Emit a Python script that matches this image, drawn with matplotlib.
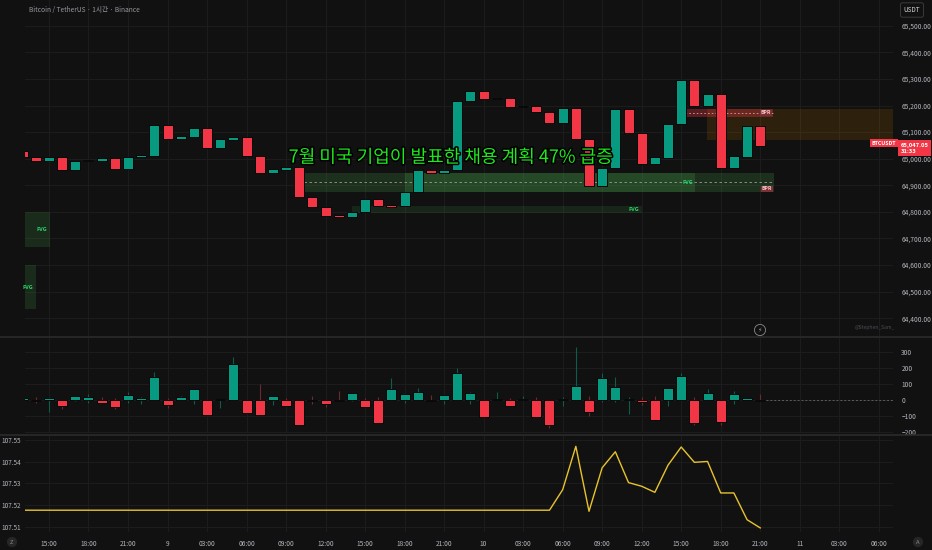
import numpy as np
import matplotlib
matplotlib.use("Agg")
import matplotlib.pyplot as plt
import matplotlib.transforms as mtrans
import matplotlib.patheffects as pe
from matplotlib.patches import Rectangle

plt.rcParams['font.family'] = ['Noto Sans CJK KR', 'DejaVu Sans']

# ---- data (hour offsets: 0 = day 8, 15:00) ----
hours = np.arange(-2, 55)
opens = [65030, 65008, 64991, 65005, 64956, 64990, 64993, 65003, 64962, 65005,
         65010, 65125, 65075, 65082, 65116, 65040, 65070, 65080, 65009, 64947,
         64959, 64970, 64857, 64817, 64788, 64782, 64800, 64848, 64825, 64822,
         64876, 64957, 64947, 64957, 65216, 65256, 65225, 65228, 65194, 65197,
         65177, 65133, 65189, 65073, 64897, 64964, 65187, 65097, 64979, 65004,
         65132, 65296, 65198, 65243, 64964, 65008, 65124]
closes = [65007, 64991, 65005, 64956, 64991, 64994, 65003, 64962, 65007, 65014,
          65125, 65075, 65084, 65116, 65040, 65074, 65080, 65009, 64947, 64960,
          64970, 64857, 64817, 64785, 64782, 64800, 64848, 64822, 64820, 64876,
          64957, 64947, 64957, 65217, 65256, 65225, 65229, 65194, 65198, 65177,
          65133, 65189, 65073, 64897, 64964, 65187, 65097, 64979, 65005, 65132,
          65296, 65198, 65243, 64964, 65010, 65124, 65047.05]

delta = [10, -8, 12, -35, 23, 17, -19, -44, 31, 10,
         146, -31, 21, 67, -94, 6, 227, -83, -94, 23,
         -38, -158, -4, -23, -2, 44, -42, -146, 67, 37,
         52, -2, 29, 169, 42, -106, 4, -35, 6, -106,
         -156, 4, 87, -73, 140, 81, 4, -15, -125, 75,
         154, -146, 44, -135, 35, 12, -2]
delta_hi = [10, 17, 12, 0, 23, 40, 19, 10, 48, 21,
            177, 10, 25, 67, 0, 6, 269, 0, 102, 23,
            10, 0, 25, 0, 54, 44, 12, 17, 137, 37,
            77, 29, 29, 204, 52, 0, 48, 10, 25, 19,
            0, 19, 331, 23, 167, 142, 19, 19, 23, 75,
            173, 19, 67, 0, 54, 12, 37]
delta_lo = [0, -21, -73, -56, -6, -17, -19, -56, -19, -25,
            0, -52, 0, -23, -94, -50, 0, -83, -94, -29,
            -38, -158, -23, -42, -2, -8, -42, -146, 0, -19,
            0, -2, -23, 0, -25, -106, 0, -35, 0, -106,
            -173, -38, 0, -100, -10, -10, -85, -33, -125, -38,
            0, -154, 0, -156, -23, -2, -2]

line_hours = [-2, 38, 39, 40, 41, 42, 43, 44, 45, 46, 47, 48, 49, 50, 51, 52, 53, 54]
line_vals = [107.5176, 107.5176, 107.5271, 107.5472, 107.5171, 107.5373, 107.5447,
             107.5304, 107.5287, 107.5259, 107.5385, 107.5469, 107.5398, 107.5402,
             107.5256, 107.5256, 107.5132, 107.5094]

tick_hours = list(range(0, 64, 3))
tick_labels = ['15:00', '18:00', '21:00', '9', '03:00', '06:00', '09:00', '12:00',
               '15:00', '18:00', '21:00', '10', '03:00', '06:00', '09:00', '12:00',
               '15:00', '18:00', '21:00', '11', '03:00', '06:00']
price_ticks = list(range(64400, 65501, 100))
delta_ticks = [-200, -100, 0, 100, 200, 300]
line_ticks = [107.51, 107.52, 107.53, 107.54, 107.55]

# zones: (start hour, end hour, low, high)
fvg_main = (19.4, 49.05, 64876, 64946)
bpr_green = (27.0, 55.05, 64876, 64946)
fvg_low = (23.0, 45.0, 64797, 64823)
fvg_left = [(-1.9, 0.08, 64669, 64800), (-1.9, -0.99, 64434, 64599)]
bpr_red = (48.3, 54.97, 65157, 65187)
supply_zone = (49.96, 70, 65070, 65187)

headline = '7월 미국 기업이 발표한 채용 계획 47% 급증'
countdown = '31:33'

# ---- styles ----
BG = '#111111'
GRID = '#1d1d1d'
TXT = '#b2b5be'
UP = '#089981'
DN = '#f23645'
W, H = 932, 550
XLIM = (-1.82, 64.08)


def px_rect(x0, y0, x1, y1):
    return [x0 / W, 1 - y1 / H, (x1 - x0) / W, (y1 - y0) / H]


fig = plt.figure(figsize=(W / 100, H / 100), dpi=100, facecolor=BG)
ax = fig.add_axes(px_rect(25, 0, 893, 336))
axh = fig.add_axes(px_rect(25, 338, 893, 433))
axl = fig.add_axes(px_rect(25, 436, 893, 532))

for a in (ax, axh, axl):
    a.set_facecolor(BG)
    a.set_xlim(*XLIM)
    for s in a.spines.values():
        s.set_visible(False)
    a.set_xticks(tick_hours)
    a.grid(True, color=GRID, linewidth=0.7)
    a.set_axisbelow(True)
    a.tick_params(length=0, labelsize=4.8, labelcolor=TXT)
    a.yaxis.tick_right()
ax.tick_params(labelbottom=False, pad=6)
axh.tick_params(labelbottom=False, pad=6)

# panel separators
for yy in (337, 435):
    fig.add_artist(plt.Line2D([0, 1], [1 - yy / H] * 2, color='#2b2b2b', lw=1.2))

# ---- main candles ----
o = np.array(opens)
c = np.array(closes)
cols = [UP if cc >= oo else DN for oo, cc in zip(o, c)]
ax.bar(hours, np.maximum(np.abs(c - o), 3), bottom=np.minimum(o, c), width=0.76,
       color=cols, edgecolor='#080808', linewidth=0.7, zorder=3)
ax.set_ylim(64333, 65597)
ax.set_yticks(price_ticks)
ax.set_yticklabels([f'{p:,.2f}' for p in price_ticks])


def zone(a, z, color, alpha, zo=1):
    a.add_patch(Rectangle((z[0], z[2]), z[1] - z[0], z[3] - z[2],
                          facecolor=color, alpha=alpha, edgecolor='none', zorder=zo))


zone(ax, supply_zone, '#ff9800', 0.12)
zone(ax, bpr_red, DN, 0.32, 2)
zone(ax, fvg_main, '#4caf50', 0.2)
zone(ax, bpr_green, '#4caf50', 0.2)
zone(ax, fvg_low, '#4caf50', 0.13)
for z in fvg_left:
    zone(ax, z, '#4caf50', 0.16)

mid = (fvg_main[2] + fvg_main[3]) / 2
ax.plot([fvg_main[0], bpr_green[1]], [mid, mid], ls=(0, (3, 3)), color='#9a9a9a', lw=0.6, zorder=2)
rmid = (bpr_red[2] + bpr_red[3]) / 2
ax.plot([bpr_red[0], bpr_red[1]], [rmid, rmid], ls=(0, (2, 2.5)), color='#d8a0a0', lw=0.6, zorder=2)

lab = dict(fontsize=4.0, color='#2bd46a', fontweight='bold', va='center', zorder=4)
ax.text(fvg_main[1] - 0.15, mid, 'FVG', ha='right', **lab)
ax.text(fvg_low[1] - 0.2, (fvg_low[2] + fvg_low[3]) / 2, 'FVG', ha='right', **lab)
ax.text(fvg_left[0][1] - 0.25, (fvg_left[0][2] + fvg_left[0][3]) / 2, 'FVG', ha='right', **lab)
ax.text(fvg_left[1][1] - 0.2, (fvg_left[1][2] + fvg_left[1][3]) / 2, 'FVG', ha='right', **lab)
bpr_kw = dict(fontsize=3.6, color='#f6c6c0', fontweight='bold', va='center', ha='right', zorder=4,
              bbox=dict(boxstyle='square,pad=0.15', fc='#7a3036', ec='none'))
ax.text(bpr_red[1] - 0.15, rmid, 'BPR', **bpr_kw)
ax.text(bpr_green[1] - 0.15, fvg_main[2] + 10, 'BPR', **bpr_kw)

# headline annotation
ax.text(30.5, 65004, headline, fontsize=13, color='#1ee81e', ha='center', va='center', zorder=6,
        path_effects=[pe.withStroke(linewidth=2.2, foreground='black')])

# last price labels
tr = mtrans.blended_transform_factory(ax.transAxes, ax.transData)
ax.text(0.9895, closes[-1] + 11, 'BTCUSDT', transform=tr, fontsize=3.8, color='white', ha='center',
        va='center', fontweight='bold', clip_on=False, zorder=7,
        bbox=dict(boxstyle='square,pad=0.3', fc=DN, ec='none'))
ax.text(1.009, closes[-1] - 8, f'{closes[-1]:,.2f}\n{countdown}', transform=tr, fontsize=4.2,
        color='white', ha='left', va='center', fontweight='bold', clip_on=False, zorder=7,
        linespacing=1.3, bbox=dict(boxstyle='square,pad=0.4', fc=DN, ec='none'))

# title, currency, watermark
fig.text(29 / W, 1 - 10 / H, 'Bitcoin / TetherUS · 1시간 · Binance', fontsize=4.8, color='#9598a1',
         va='center')
fig.text(912 / W, 1 - 10 / H, 'USDT', fontsize=4.6, color='#d1d4dc', ha='center', va='center',
         bbox=dict(boxstyle='round,pad=0.5,rounding_size=0.3', fc=BG, ec='#3a3a3a', lw=0.7))
fig.text(875 / W, 1 - 327 / H, '@Stephen_Sam_', fontsize=3.6, color='#4a4d55', ha='center', va='center')
fig.text(760 / W, 1 - 330 / H, '⚡', fontsize=4.5, color='#9a9a9a', ha='center', va='center',
         bbox=dict(boxstyle='circle,pad=0.25', fc=BG, ec='#8a8a8a', lw=0.6))

# ---- delta histogram ----
d = np.array(delta)
dcols = [UP if v >= 0 else DN for v in d]
wcols = ['#0e5c4c' if v >= 0 else '#6a2a30' for v in d]
axh.vlines(hours, delta_lo, delta_hi, colors=wcols, lw=0.8, zorder=2)
axh.bar(hours, np.where(np.abs(d) < 3, 3 * np.sign(d + 0.1), d), width=0.76, color=dcols,
        edgecolor='#080808', linewidth=0.7, zorder=3)
axh.plot([hours[-1] + 0.4, XLIM[1]], [0, 0], ls=(0, (2, 2)), color='#5d5d5d', lw=0.7, zorder=1)
axh.set_ylim(-207, 390)
axh.set_yticks(delta_ticks)
axh.set_yticklabels([f'{v}'.replace('-', '−') for v in delta_ticks])

# ---- bottom line ----
axl.plot(line_hours, line_vals, color='#e8c32e', lw=1.0, zorder=3)
axl.set_ylim(107.5075, 107.552)
axl.set_yticks(line_ticks)
axl.set_yticklabels([f'{v:.2f}' for v in line_ticks])
axl.yaxis.tick_left()
axl.tick_params(axis='y', pad=3, labelsize=4.6)
axl.tick_params(axis='x', pad=5.5)
axl.set_xticklabels(tick_labels)

# corner badges
for xx, t in ((12, 'Z'), (918, 'A')):
    fig.text(xx / W, 1 - 542 / H, t, fontsize=4.2, color='#8a8d95', ha='center', va='center',
             bbox=dict(boxstyle='circle,pad=0.45', fc='#262626', ec='none'))

fig.savefig('out.png', dpi=100, facecolor=BG)
